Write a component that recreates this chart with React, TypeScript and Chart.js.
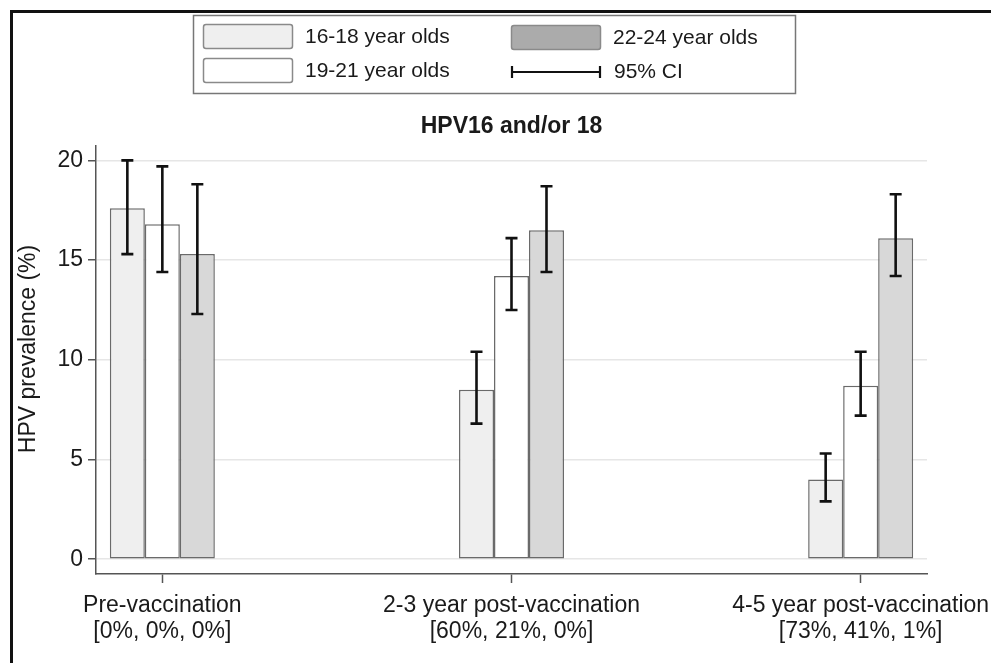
import React, { useEffect, useRef } from "react";
import { Chart, registerables } from "chart.js";

Chart.register(...registerables);

const categories: string[][] = [
  ["Pre-vaccination", "[0%, 0%, 0%]"],
  ["2-3 year post-vaccination", "[60%, 21%, 0%]"],
  ["4-5 year post-vaccination", "[73%, 41%, 1%]"],
];
const categoryPositions = [0, 1, 2];
const seriesLabels = ["16-18 year olds", "19-21 year olds", "22-24 year olds"];
const prev1618 = [17.6, 8.5, 4.0];
const prev1921 = [16.8, 14.2, 8.7];
const prev2224 = [15.3, 16.5, 16.1];
const lo1618 = [15.3, 6.8, 2.9];
const hi1618 = [20.0, 10.4, 5.3];
const lo1921 = [14.4, 12.5, 7.2];
const hi1921 = [19.7, 16.1, 10.4];
const lo2224 = [12.3, 14.4, 14.2];
const hi2224 = [18.8, 18.7, 18.3];
const yTicks = [0, 5, 10, 15, 20];
const chartTitle = "HPV16 and/or 18";
const yAxisTitle = "HPV prevalence (%)";
const ciLabel = "95% CI";

const FONT = "'Liberation Sans', Arial, sans-serif";
const TEXT = "#1a1a1a";
const barFills = ["#efefef", "#ffffff", "#d8d8d8"];
const swatchFills = ["#efefef", "#ffffff", "#ababab"];
const BORDER = "#6a6a6a";

const values = [prev1618, prev1921, prev2224];
const lows = [lo1618, lo1921, lo2224];
const highs = [hi1618, hi1921, hi2224];

function roundRect(ctx: CanvasRenderingContext2D, x: number, y: number, w: number, h: number, r: number) {
  ctx.beginPath();
  ctx.moveTo(x + r, y);
  ctx.lineTo(x + w - r, y);
  ctx.arcTo(x + w, y, x + w, y + r, r);
  ctx.lineTo(x + w, y + h - r);
  ctx.arcTo(x + w, y + h, x + w - r, y + h, r);
  ctx.lineTo(x + r, y + h);
  ctx.arcTo(x, y + h, x, y + h - r, r);
  ctx.lineTo(x, y + r);
  ctx.arcTo(x, y, x + r, y, r);
  ctx.closePath();
}

const backgroundPlugin = {
  id: "bgFrame",
  beforeDraw(chart: any) {
    const ctx = chart.ctx;
    ctx.save();
    ctx.fillStyle = "#ffffff";
    ctx.fillRect(0, 0, chart.width, chart.height);
    ctx.restore();
  },
};

const errorBarPlugin = {
  id: "errorBars",
  afterDatasetsDraw(chart: any) {
    const ctx = chart.ctx;
    const yScale = chart.scales.y;
    ctx.save();
    ctx.strokeStyle = "#111111";
    ctx.lineWidth = 2.6;
    ctx.lineCap = "butt";
    chart.data.datasets.forEach((ds: any, i: number) => {
      const meta = chart.getDatasetMeta(i);
      meta.data.forEach((el: any, j: number) => {
        const x = el.x;
        const yl = yScale.getPixelForValue(lows[i][j]);
        const yh = yScale.getPixelForValue(highs[i][j]);
        const cap = 6;
        ctx.beginPath();
        ctx.moveTo(x, yl);
        ctx.lineTo(x, yh);
        ctx.moveTo(x - cap, yl);
        ctx.lineTo(x + cap, yl);
        ctx.moveTo(x - cap, yh);
        ctx.lineTo(x + cap, yh);
        ctx.stroke();
      });
    });
    ctx.restore();
  },
};

const annotationsPlugin = {
  id: "annotations",
  afterDraw(chart: any) {
    const ctx = chart.ctx;
    const area = chart.chartArea;
    ctx.save();
    // frame
    ctx.strokeStyle = "#111111";
    ctx.lineWidth = 3;
    ctx.beginPath();
    ctx.moveTo(11.5, chart.height);
    ctx.lineTo(11.5, 11.5);
    ctx.lineTo(chart.width, 11.5);
    ctx.stroke();

    // title
    ctx.fillStyle = TEXT;
    ctx.font = `bold 23px ${FONT}`;
    ctx.textAlign = "center";
    ctx.textBaseline = "alphabetic";
    ctx.fillText(chartTitle, (area.left + area.right) / 2, 133);

    // y axis title
    ctx.save();
    ctx.translate(29, 349);
    ctx.rotate(-Math.PI / 2);
    ctx.font = `23px ${FONT}`;
    ctx.textBaseline = "middle";
    ctx.textAlign = "center";
    ctx.fillText(yAxisTitle, 0, 0);
    ctx.restore();

    // legend box
    ctx.strokeStyle = "#777777";
    ctx.lineWidth = 1.5;
    ctx.strokeRect(193.5, 15.5, 602, 78);

    const swW = 89, swH = 24;
    const items = [
      { x: 203, y: 24, kind: 0 },
      { x: 203, y: 58, kind: 1 },
      { x: 511, y: 25, kind: 2 },
    ];
    items.forEach((it) => {
      roundRect(ctx, it.x + 0.5, it.y + 0.5, swW, swH, 2.5);
      ctx.fillStyle = swatchFills[it.kind];
      ctx.fill();
      ctx.strokeStyle = "#8a8a8a";
      ctx.lineWidth = 1.5;
      ctx.stroke();
      ctx.fillStyle = TEXT;
      ctx.font = `21px ${FONT}`;
      ctx.textAlign = "left";
      ctx.textBaseline = "middle";
      ctx.fillText(seriesLabels[it.kind], it.x + swW + 13, it.y + swH / 2 + 1);
    });
    // CI item
    ctx.strokeStyle = "#111111";
    ctx.lineWidth = 2.2;
    ctx.beginPath();
    ctx.moveTo(512, 72);
    ctx.lineTo(600, 72);
    ctx.moveTo(512, 66);
    ctx.lineTo(512, 78);
    ctx.moveTo(600, 66);
    ctx.lineTo(600, 78);
    ctx.stroke();
    ctx.fillStyle = TEXT;
    ctx.font = `21px ${FONT}`;
    ctx.textAlign = "left";
    ctx.textBaseline = "middle";
    ctx.fillText(ciLabel, 614, 72);
    ctx.restore();
  },
};

export default function App() {
  const canvasRef = useRef<HTMLCanvasElement | null>(null);

  useEffect(() => {
    document.body.style.margin = "0";
    const canvas = canvasRef.current;
    if (!canvas) return;
    const datasets = values.map((vals, i) => ({
      label: seriesLabels[i],
      data: vals.map((v, j) => ({ x: categoryPositions[j], y: v })),
      backgroundColor: barFills[i],
      borderColor: BORDER,
      borderWidth: 1.5,
      borderSkipped: false as any,
      barPercentage: 1.0,
      categoryPercentage: 0.3007,
    }));

    const chart = new Chart(canvas, {
      type: "bar",
      data: { datasets },
      plugins: [backgroundPlugin, errorBarPlugin, annotationsPlugin],
      options: {
        animation: false,
        responsive: false,
        maintainAspectRatio: false,
        layout: { padding: { left: 0, right: 64, top: 146, bottom: 0 } },
        plugins: {
          legend: { display: false },
          title: { display: false },
          tooltip: { enabled: false },
        },
        scales: {
          x: {
            type: "linear",
            min: -0.19,
            max: 2.19,
            offset: false,
            afterBuildTicks: (scale: any) => {
              scale.ticks = categoryPositions.map((v) => ({ value: v }));
            },
            afterFit: (scale: any) => {
              scale.height = 89;
              scale.paddingLeft = 0;
              scale.paddingRight = 0;
            },
            grid: {
              offset: false,
              drawOnChartArea: false,
              drawTicks: true,
              tickLength: 9,
              tickColor: "#555555",
              tickWidth: 1.5,
            },
            border: { display: true, color: "#555555", width: 1.5 },
            ticks: {
              autoSkip: false,
              maxRotation: 0,
              minRotation: 0,
              padding: 9,
              color: TEXT,
              font: { family: FONT, size: 23, lineHeight: 1.15 },
              callback: (v: any) => categories[Math.round(Number(v))] || "",
            },
          },
          y: {
            type: "linear",
            min: -0.74,
            max: 20.72,
            afterBuildTicks: (scale: any) => {
              scale.ticks = yTicks.map((v) => ({ value: v }));
            },
            afterFit: (scale: any) => {
              scale.width = 96;
              scale.paddingTop = 0;
              scale.paddingBottom = 0;
            },
            grid: {
              color: "#e6e6e6",
              lineWidth: 1.5,
              tickLength: 8,
              tickColor: "#555555",
              tickWidth: 1.5,
            },
            border: { display: true, color: "#555555", width: 1.5 },
            ticks: {
              padding: 5,
              color: TEXT,
              font: { family: FONT, size: 23 },
            },
          },
        },
      } as any,
    });
    return () => chart.destroy();
  }, []);

  return (
    <div style={{ width: 991, height: 663, position: "relative" }}>
      <canvas ref={canvasRef} width={991} height={663} style={{ display: "block" }} />
    </div>
  );
}
